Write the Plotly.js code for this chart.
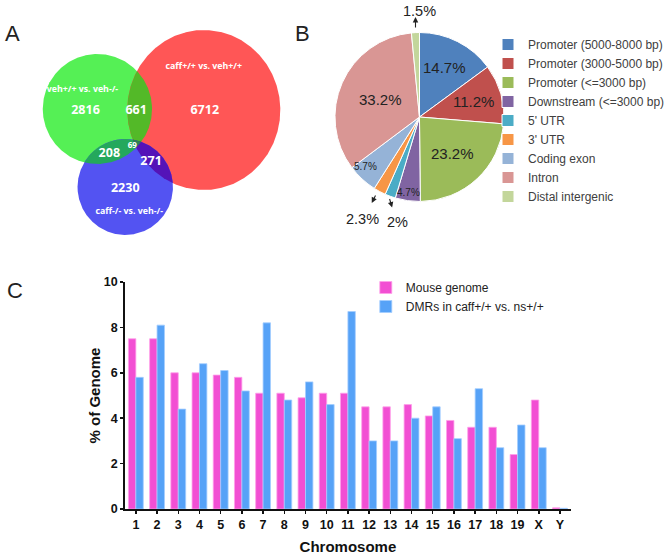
<!DOCTYPE html>
<html><head><meta charset="utf-8">
<script src="https://cdn.plot.ly/plotly-3.0.1.min.js"></script>
<style>html,body{margin:0;padding:0;background:#fff}</style>
</head><body><div id="chart" style="width:670px;height:555px"></div>
<script>
// ---------- Panel A: Venn diagram data ----------
const vennSetNames = ['veh+/+ vs. veh-/-', 'caff+/+ vs. veh+/+', 'caff-/- vs. veh-/-'];
const vennRegions = ['G', 'R', 'B', 'GR', 'GB', 'RB', 'GRB'];
const vennCounts = [2816, 6712, 2230, 661, 208, 271, 69];

// ---------- Panel B: pie data ----------
const pieLabels = ['Promoter (5000-8000 bp)', 'Promoter (3000-5000 bp)', 'Promoter (<=3000 bp)',
  'Downstream (<=3000 bp)', "5' UTR", "3' UTR", 'Coding exon', 'Intron', 'Distal intergenic'];
const pieValues = [14.7, 11.2, 23.2, 4.7, 2, 2.3, 5.7, 33.2, 1.5];
const pieColors = ['#4F81BD', '#C0504D', '#9BBB59', '#8064A2', '#4BACC6', '#F79646', '#95B3D7', '#D99694', '#C3D69B'];

// ---------- Panel C: bar data ----------
const chromosomes = ['1','2','3','4','5','6','7','8','9','10','11','12','13','14','15','16','17','18','19','X','Y'];
const mouseGenome = [7.5, 7.5, 6.0, 6.0, 5.9, 5.8, 5.1, 5.1, 4.9, 5.1, 5.1, 4.5, 4.5, 4.6, 4.1, 3.9, 3.6, 3.6, 2.4, 4.8, 0.05];
const dmrs =        [5.8, 8.1, 4.4, 6.4, 6.1, 5.2, 8.2, 4.8, 5.6, 4.6, 8.7, 3.0, 3.0, 4.0, 4.5, 3.1, 5.3, 2.7, 3.7, 2.7, 0.03];
const barNames = ['Mouse genome', 'DMRs in caff+/+ vs. ns+/+'];

// ---------- layout geometry (pixels on a 670x555 page) ----------
const W = 670, H = 555;
const circles = {
  G: {cx: 98, cy: 109, rx: 55, ry: 55},
  R: {cx: 205, cy: 110, rx: 77, ry: 80},
  B: {cx: 126, cy: 187, rx: 48, ry: 48}
};
const regionColors = {G: '#55f055', R: '#ff5656', B: '#5353f2', GR: '#53b928', GB: '#24a85c', RB: '#5413b8', GRB: '#2b7f55'};
const regionLabelPos = {G: [86, 111], R: [206, 111], B: [126, 189], GR: [137, 111], GB: [110, 153.5], RB: [152, 162], GRB: [133, 146]};
const regionLabelSize = {G: 12.5, R: 12.5, B: 12.5, GR: 12.5, GB: 12.5, RB: 12.5, GRB: 8};
const setNamePos = [[83, 90], [205, 67], [130, 212]];

const PIE_CX = 422, PIE_CY = 117, PIE_R = 85;
const pieInside = [{r: 0.65, s: 15}, {r: 0.66, s: 15}, {r: 0.58, s: 15}, {r: 0.9, s: 10}, null, null, {r: 0.87, s: 10, da: 5}, {r: 0.51, s: 15}, null];
const pieOutside = {
  8: {tx: 422, ty: 11, hx: 418, hy: 17, tailx: 418, taily: 29},
  5: {tx: 364.5, ty: 219, hx: 374, hy: 203, tailx: 378.5, taily: 194},
  4: {tx: 399.5, ty: 221.5, hx: 394.5, hy: 207.5, tailx: 391.5, taily: 197.5}
};

// ---------- helpers ----------
function inside(p, c) {
  const dx = (p[0] - c.cx) / c.rx, dy = (p[1] - c.cy) / c.ry;
  return dx * dx + dy * dy <= 1 + 1e-9;
}
function regionPolygon(keys) {
  const cs = keys.split('').map(k => circles[k]);
  let pts = [];
  const n = 720;
  cs.forEach((c, i) => {
    for (let k = 0; k < n; k++) {
      const t = 2 * Math.PI * k / n;
      const p = [c.cx + c.rx * Math.cos(t), c.cy + c.ry * Math.sin(t)];
      if (cs.every((o, j) => j === i || inside(p, o))) pts.push(p);
    }
  });
  const mx = pts.reduce((a, p) => a + p[0], 0) / pts.length;
  const my = pts.reduce((a, p) => a + p[1], 0) / pts.length;
  pts.sort((a, b) => Math.atan2(a[1] - my, a[0] - mx) - Math.atan2(b[1] - my, b[0] - mx));
  pts.push(pts[0]);
  return {x: pts.map(p => p[0]), y: pts.map(p => p[1])};
}

const traces = [];
// Venn regions: full circles then overlaps
['G', 'R', 'B', 'GR', 'GB', 'RB', 'GRB'].forEach(k => {
  const poly = regionPolygon(k);
  traces.push({type: 'scatter', mode: 'lines', x: poly.x, y: poly.y, fill: 'toself',
    fillcolor: regionColors[k], line: {width: 0, color: regionColors[k]},
    hoverinfo: 'skip', showlegend: false, xaxis: 'x', yaxis: 'y'});
});
// Venn counts
traces.push({type: 'scatter', mode: 'text', xaxis: 'x', yaxis: 'y',
  x: vennRegions.map(k => regionLabelPos[k][0]), y: vennRegions.map(k => regionLabelPos[k][1]),
  text: vennCounts.map(String),
  textfont: {family: 'Open Sans', weight: 'bold', color: '#ffffff', size: vennRegions.map(k => regionLabelSize[k])},
  hoverinfo: 'skip', showlegend: false});
// Venn set names
traces.push({type: 'scatter', mode: 'text', xaxis: 'x', yaxis: 'y',
  x: setNamePos.map(p => p[0]), y: setNamePos.map(p => p[1]), text: vennSetNames,
  textfont: {family: 'Open Sans', weight: 'bold', color: '#ffffff', size: 8.8},
  hoverinfo: 'skip', showlegend: false});

// Pie
traces.push({type: 'pie', labels: pieLabels, values: pieValues, sort: false, direction: 'clockwise', rotation: 0,
  marker: {colors: pieColors, line: {color: '#ffffff', width: 1}}, textinfo: 'none',
  domain: {x: [(PIE_CX - PIE_R) / W, (PIE_CX + PIE_R) / W], y: [1 - (PIE_CY + PIE_R) / H, 1 - (PIE_CY - PIE_R) / H]},
  legend: 'legend', hoverinfo: 'label+value'});

// Bars
traces.push({type: 'bar', name: barNames[0], x: chromosomes, y: mouseGenome, xaxis: 'x2', yaxis: 'y2', legend: 'legend2',
  marker: {color: '#f24fd3', line: {color: '#ff9fea', width: 0.8}}});
traces.push({type: 'bar', name: barNames[1], x: chromosomes, y: dmrs, xaxis: 'x2', yaxis: 'y2', legend: 'legend2',
  marker: {color: '#56a2f7', line: {color: '#a3cdff', width: 0.8}}});

// Annotations
const annotations = [];
const labelFont = (s) => ({family: 'Liberation Sans', size: s, color: '#222'});
const total = pieValues.reduce((a, b) => a + b, 0);
let cum = 0;
pieValues.forEach((v, i) => {
  const midDeg = (cum + v / 2) / total * 360;
  cum += v;
  const cfg = pieInside[i];
  if (cfg) {
    const a = (midDeg + (cfg.da || 0)) * Math.PI / 180;
    annotations.push({xref: 'x', yref: 'y', x: PIE_CX + cfg.r * PIE_R * Math.sin(a), y: PIE_CY - cfg.r * PIE_R * Math.cos(a),
      text: v + '%', showarrow: false, font: labelFont(cfg.s)});
  } else if (pieOutside[i]) {
    const o = pieOutside[i];
    annotations.push({xref: 'x', yref: 'y', x: o.tx, y: o.ty, text: v + '%', showarrow: false, font: labelFont(14.5)});
    annotations.push({xref: 'x', yref: 'y', x: o.hx, y: o.hy, text: '', showarrow: true, arrowhead: 2, arrowsize: 1,
      arrowwidth: 1.1, arrowcolor: '#222', axref: 'x', ayref: 'y', ax: o.tailx, ay: o.taily});
  }
});
// Panel letters
[['A', 12.5, 33.5], ['B', 304, 33], ['C', 15, 290]].forEach(l => {
  annotations.push({xref: 'x', yref: 'y', x: l[1], y: l[2], text: l[0], showarrow: false,
    font: {family: 'Liberation Sans', size: 22, color: '#222'}});
});

const boldFont = (s) => ({family: 'Liberation Sans', size: s, weight: 'bold', color: '#111'});
const layout = {
  width: W, height: H, margin: {l: 0, r: 0, t: 0, b: 0},
  paper_bgcolor: '#ffffff', plot_bgcolor: 'rgba(0,0,0,0)',
  xaxis: {domain: [0, 1], range: [0, W], visible: false, fixedrange: true, anchor: 'y'},
  yaxis: {domain: [0, 1], range: [H, 0], visible: false, fixedrange: true, anchor: 'x'},
  xaxis2: {domain: [126 / W, 574 / W], anchor: 'y2', type: 'category', range: [-0.5, 20.5],
    showline: true, linewidth: 2, linecolor: '#111', ticks: 'outside', ticklen: 3, tickwidth: 1.5, tickcolor: '#111',
    tickfont: boldFont(12.5), showgrid: false, zeroline: false, fixedrange: true,
    title: {text: 'Chromosome', font: boldFont(15), standoff: 13}},
  yaxis2: {domain: [1 - 509 / H, 1 - 282 / H], anchor: 'x2', range: [0, 10], dtick: 2,
    showline: true, linewidth: 2, linecolor: '#111', ticks: 'outside', ticklen: 3, tickwidth: 1.5, tickcolor: '#111',
    tickfont: boldFont(12.5), showgrid: false, zeroline: false, fixedrange: true,
    title: {text: '% of Genome', font: boldFont(15), standoff: 0}},
  barmode: 'group', bargap: 0.3, bargroupgap: 0,
  legend: {x: 491 / W, xanchor: 'left', y: 1 - 30 / H, yanchor: 'top', bgcolor: 'rgba(0,0,0,0)',
    font: {family: 'Liberation Sans', size: 12, color: '#404040'}, tracegroupgap: 0},
  legend2: {x: 368 / W, xanchor: 'left', y: 1 - 273 / H, yanchor: 'top', bgcolor: 'rgba(0,0,0,0)',
    font: {family: 'Liberation Sans', size: 12, color: '#222'}, tracegroupgap: 0},
  annotations: annotations,
  showlegend: true
};
Plotly.newPlot('chart', traces, layout, {displayModeBar: false, staticPlot: true});
</script></body></html>
